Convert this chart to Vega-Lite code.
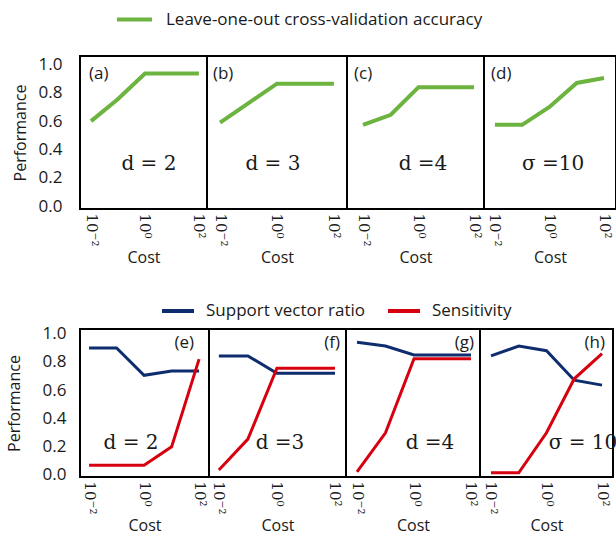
{
  "$schema": "https://vega.github.io/schema/vega-lite/v6.json",
  "background": "white",
  "padding": {"left": 5, "top": 0, "right": 0, "bottom": 0},
  "config": {
    "view": {"stroke": "#000", "strokeWidth": 2},
    "font": "Open Sans",
    "text": {"color": "#1a1a1a"},
    "axisX": {"labelAngle": 90, "labelFont": "DejaVu Serif", "labelFontSize": 15, "labelColor": "#1a1a1a", "labelFlush": false, "labelOverlap": false, "ticks": false, "domain": false, "grid": false, "labelPadding": 4, "titleFont": "Open Sans", "titleFontSize": 16, "titleFontWeight": "normal", "titleColor": "#1a1a1a", "titlePadding": 3},
    "axisY": {"ticks": false, "domain": false, "grid": false, "labelFont": "Open Sans", "labelFontSize": 17, "labelColor": "#1a1a1a", "labelFlush": false, "labelOverlap": false, "titleFont": "Open Sans", "titleFontSize": 16, "titleFontWeight": "normal", "titleColor": "#1a1a1a"},
    "legend": {"orient": "none", "direction": "horizontal", "symbolType": "stroke", "symbolStrokeWidth": 4, "labelFont": "Open Sans", "labelFontSize": 17, "labelColor": "#1a1a1a", "labelLimit": 500}
  },
  "datasets": {
    "top": [
      {"panel": "a", "series": "Leave-one-out cross-validation accuracy", "cost": 0.01, "value": 0.60},
      {"panel": "a", "series": "Leave-one-out cross-validation accuracy", "cost": 0.1, "value": 0.757},
      {"panel": "a", "series": "Leave-one-out cross-validation accuracy", "cost": 1, "value": 0.936},
      {"panel": "a", "series": "Leave-one-out cross-validation accuracy", "cost": 10, "value": 0.936},
      {"panel": "a", "series": "Leave-one-out cross-validation accuracy", "cost": 100, "value": 0.936},
      {"panel": "b", "series": "Leave-one-out cross-validation accuracy", "cost": 0.01, "value": 0.59},
      {"panel": "b", "series": "Leave-one-out cross-validation accuracy", "cost": 0.1, "value": 0.728},
      {"panel": "b", "series": "Leave-one-out cross-validation accuracy", "cost": 1, "value": 0.865},
      {"panel": "b", "series": "Leave-one-out cross-validation accuracy", "cost": 10, "value": 0.865},
      {"panel": "b", "series": "Leave-one-out cross-validation accuracy", "cost": 100, "value": 0.865},
      {"panel": "c", "series": "Leave-one-out cross-validation accuracy", "cost": 0.01, "value": 0.574},
      {"panel": "c", "series": "Leave-one-out cross-validation accuracy", "cost": 0.1, "value": 0.645},
      {"panel": "c", "series": "Leave-one-out cross-validation accuracy", "cost": 1, "value": 0.84},
      {"panel": "c", "series": "Leave-one-out cross-validation accuracy", "cost": 10, "value": 0.84},
      {"panel": "c", "series": "Leave-one-out cross-validation accuracy", "cost": 100, "value": 0.84},
      {"panel": "d", "series": "Leave-one-out cross-validation accuracy", "cost": 0.01, "value": 0.574},
      {"panel": "d", "series": "Leave-one-out cross-validation accuracy", "cost": 0.1, "value": 0.574},
      {"panel": "d", "series": "Leave-one-out cross-validation accuracy", "cost": 1, "value": 0.70},
      {"panel": "d", "series": "Leave-one-out cross-validation accuracy", "cost": 10, "value": 0.87},
      {"panel": "d", "series": "Leave-one-out cross-validation accuracy", "cost": 100, "value": 0.905}
    ],
    "bottom": [
      {"panel": "e", "series": "Support vector ratio", "cost": 0.01, "value": 0.90},
      {"panel": "e", "series": "Support vector ratio", "cost": 0.1, "value": 0.90},
      {"panel": "e", "series": "Support vector ratio", "cost": 1, "value": 0.705},
      {"panel": "e", "series": "Support vector ratio", "cost": 10, "value": 0.735},
      {"panel": "e", "series": "Support vector ratio", "cost": 100, "value": 0.735},
      {"panel": "e", "series": "Sensitivity", "cost": 0.01, "value": 0.064},
      {"panel": "e", "series": "Sensitivity", "cost": 0.1, "value": 0.064},
      {"panel": "e", "series": "Sensitivity", "cost": 1, "value": 0.064},
      {"panel": "e", "series": "Sensitivity", "cost": 10, "value": 0.195},
      {"panel": "e", "series": "Sensitivity", "cost": 100, "value": 0.82},
      {"panel": "f", "series": "Support vector ratio", "cost": 0.01, "value": 0.843},
      {"panel": "f", "series": "Support vector ratio", "cost": 0.1, "value": 0.843},
      {"panel": "f", "series": "Support vector ratio", "cost": 1, "value": 0.72},
      {"panel": "f", "series": "Support vector ratio", "cost": 10, "value": 0.72},
      {"panel": "f", "series": "Support vector ratio", "cost": 100, "value": 0.72},
      {"panel": "f", "series": "Sensitivity", "cost": 0.01, "value": 0.03},
      {"panel": "f", "series": "Sensitivity", "cost": 0.1, "value": 0.25},
      {"panel": "f", "series": "Sensitivity", "cost": 1, "value": 0.755},
      {"panel": "f", "series": "Sensitivity", "cost": 10, "value": 0.755},
      {"panel": "f", "series": "Sensitivity", "cost": 100, "value": 0.755},
      {"panel": "g", "series": "Support vector ratio", "cost": 0.01, "value": 0.94},
      {"panel": "g", "series": "Support vector ratio", "cost": 0.1, "value": 0.914},
      {"panel": "g", "series": "Support vector ratio", "cost": 1, "value": 0.85},
      {"panel": "g", "series": "Support vector ratio", "cost": 10, "value": 0.85},
      {"panel": "g", "series": "Support vector ratio", "cost": 100, "value": 0.85},
      {"panel": "g", "series": "Sensitivity", "cost": 0.01, "value": 0.016},
      {"panel": "g", "series": "Sensitivity", "cost": 0.1, "value": 0.295},
      {"panel": "g", "series": "Sensitivity", "cost": 1, "value": 0.823},
      {"panel": "g", "series": "Sensitivity", "cost": 10, "value": 0.823},
      {"panel": "g", "series": "Sensitivity", "cost": 100, "value": 0.823},
      {"panel": "h", "series": "Support vector ratio", "cost": 0.01, "value": 0.843},
      {"panel": "h", "series": "Support vector ratio", "cost": 0.1, "value": 0.914},
      {"panel": "h", "series": "Support vector ratio", "cost": 1, "value": 0.88},
      {"panel": "h", "series": "Support vector ratio", "cost": 10, "value": 0.67},
      {"panel": "h", "series": "Support vector ratio", "cost": 100, "value": 0.635},
      {"panel": "h", "series": "Sensitivity", "cost": 0.01, "value": 0.01},
      {"panel": "h", "series": "Sensitivity", "cost": 0.1, "value": 0.01},
      {"panel": "h", "series": "Sensitivity", "cost": 1, "value": 0.295},
      {"panel": "h", "series": "Sensitivity", "cost": 10, "value": 0.68},
      {"panel": "h", "series": "Sensitivity", "cost": 100, "value": 0.86}
    ]
  },
  "resolve": {"scale": {"color": "independent"}},
  "spacing": 26,
  "vconcat": [
    {
      "hconcat": [
        {
          "width": 127, "height": 153,
          "layer": [
            {
              "data": {"name": "top"},
              "transform": [{"filter": "datum.panel === 'a'"}],
              "mark": {"type": "line", "strokeWidth": 4},
              "encoding": {
                "x": {"field": "cost", "type": "quantitative", "scale": {"type": "log", "domain": [0.00389, 199.5], "nice": false},
                  "axis": {"values": [0.01, 1, 100], "labelExpr": "datum.value < 0.1 ? '10⁻²' : (datum.value < 10 ? '10⁰' : '10²')", "title": "Cost"}},
                "y": {"field": "value", "type": "quantitative", "scale": {"domain": [-0.02, 1.06], "nice": false, "zero": false},
                  "axis": {"values": [0, 0.2, 0.4, 0.6, 0.8, 1.0], "tickCount": 12, "format": ".1f", "labelOverlap": false, "labelPadding": 18, "title": "Performance", "titlePadding": 10}},
                "color": {"field": "series", "type": "nominal", "scale": {"domain": ["Leave-one-out cross-validation accuracy"], "range": ["#6cb33f"]},
                  "legend": {"legendX": 35, "legendY": -56, "title": null, "symbolSize": 1225, "labelOffset": 12}}
              }
            },
            {"data": {"values": [{}]}, "mark": {"type": "text", "align": "left", "fontSize": 17, "font": "Open Sans"}, "encoding": {"x": {"datum": 0.0084}, "y": {"datum": 0.936}, "text": {"value": "(a)"}}},
            {"data": {"values": [{}]}, "mark": {"type": "text", "align": "center", "fontSize": 20, "font": "DejaVu Serif"}, "encoding": {"x": {"datum": 1.40}, "y": {"datum": 0.30}, "text": {"value": "d = 2"}}}
          ]
        },
        {
          "width": 140, "height": 153,
          "layer": [
            {
              "data": {"name": "top"},
              "transform": [{"filter": "datum.panel === 'b'"}],
              "mark": {"type": "line", "strokeWidth": 4},
              "encoding": {
                "x": {"field": "cost", "type": "quantitative", "scale": {"type": "log", "domain": [0.00347, 288.4], "nice": false},
                  "axis": {"values": [0.01, 1, 100], "labelExpr": "datum.value < 0.1 ? '10⁻²' : (datum.value < 10 ? '10⁰' : '10²')", "title": "Cost"}},
                "y": {"field": "value", "type": "quantitative", "scale": {"domain": [-0.02, 1.06], "nice": false, "zero": false}, "axis": null},
                "color": {"field": "series", "type": "nominal", "scale": {"domain": ["Leave-one-out cross-validation accuracy"], "range": ["#6cb33f"]},
                  "legend": {"legendX": 35, "legendY": -56, "title": null, "symbolSize": 1225, "labelOffset": 12}}
              }
            },
            {"data": {"values": [{}]}, "mark": {"type": "text", "align": "left", "fontSize": 17, "font": "Open Sans"}, "encoding": {"x": {"datum": 0.0056}, "y": {"datum": 0.936}, "text": {"value": "(b)"}}},
            {"data": {"values": [{}]}, "mark": {"type": "text", "align": "center", "fontSize": 20, "font": "DejaVu Serif"}, "encoding": {"x": {"datum": 0.72}, "y": {"datum": 0.30}, "text": {"value": "d = 3"}}}
          ]
        },
        {
          "width": 137, "height": 153,
          "layer": [
            {
              "data": {"name": "top"},
              "transform": [{"filter": "datum.panel === 'c'"}],
              "mark": {"type": "line", "strokeWidth": 4},
              "encoding": {
                "x": {"field": "cost", "type": "quantitative", "scale": {"type": "log", "domain": [0.00265, 229.1], "nice": false},
                  "axis": {"values": [0.01, 1, 100], "labelExpr": "datum.value < 0.1 ? '10⁻²' : (datum.value < 10 ? '10⁰' : '10²')", "title": "Cost"}},
                "y": {"field": "value", "type": "quantitative", "scale": {"domain": [-0.02, 1.06], "nice": false, "zero": false}, "axis": null},
                "color": {"field": "series", "type": "nominal", "scale": {"domain": ["Leave-one-out cross-validation accuracy"], "range": ["#6cb33f"]},
                  "legend": {"legendX": 35, "legendY": -56, "title": null, "symbolSize": 1225, "labelOffset": 12}}
              }
            },
            {"data": {"values": [{}]}, "mark": {"type": "text", "align": "left", "fontSize": 17, "font": "Open Sans"}, "encoding": {"x": {"datum": 0.00473}, "y": {"datum": 0.936}, "text": {"value": "(c)"}}},
            {"data": {"values": [{}]}, "mark": {"type": "text", "align": "center", "fontSize": 20, "font": "DejaVu Serif"}, "encoding": {"x": {"datum": 1.45}, "y": {"datum": 0.30}, "text": {"value": "d =4"}}}
          ]
        },
        {
          "width": 132, "height": 153,
          "layer": [
            {
              "data": {"name": "top"},
              "transform": [{"filter": "datum.panel === 'd'"}],
              "mark": {"type": "line", "strokeWidth": 4},
              "encoding": {
                "x": {"field": "cost", "type": "quantitative", "scale": {"type": "log", "domain": [0.00398, 275.4], "nice": false},
                  "axis": {"values": [0.01, 1, 100], "labelExpr": "datum.value < 0.1 ? '10⁻²' : (datum.value < 10 ? '10⁰' : '10²')", "title": "Cost"}},
                "y": {"field": "value", "type": "quantitative", "scale": {"domain": [-0.02, 1.06], "nice": false, "zero": false}, "axis": null},
                "color": {"field": "series", "type": "nominal", "scale": {"domain": ["Leave-one-out cross-validation accuracy"], "range": ["#6cb33f"]},
                  "legend": {"legendX": 35, "legendY": -56, "title": null, "symbolSize": 1225, "labelOffset": 12}}
              }
            },
            {"data": {"values": [{}]}, "mark": {"type": "text", "align": "left", "fontSize": 17, "font": "Open Sans"}, "encoding": {"x": {"datum": 0.0072}, "y": {"datum": 0.936}, "text": {"value": "(d)"}}},
            {"data": {"values": [{}]}, "mark": {"type": "text", "align": "center", "fontSize": 20, "font": "DejaVu Serif"}, "encoding": {"x": {"datum": 1.36}, "y": {"datum": 0.30}, "text": {"value": "σ =10"}}}
          ]
        }
      ],
      "spacing": 0,
      "bounds": "flush"
    },
    {
      "hconcat": [
        {
          "width": 129, "height": 148,
          "layer": [
            {
              "data": {"name": "bottom"},
              "transform": [{"filter": "datum.panel === 'e' && datum.series === 'Support vector ratio'"}],
              "mark": {"type": "line", "strokeWidth": 3},
              "encoding": {
                "x": {"field": "cost", "type": "quantitative", "scale": {"type": "log", "domain": [0.00468, 229.1], "nice": false},
                  "axis": {"values": [0.01, 1, 100], "labelExpr": "datum.value < 0.1 ? '10⁻²' : (datum.value < 10 ? '10⁰' : '10²')", "title": "Cost"}},
                "y": {"field": "value", "type": "quantitative", "scale": {"domain": [-0.02, 1.035], "nice": false, "zero": false},
                  "axis": {"values": [0, 0.2, 0.4, 0.6, 0.8, 1.0], "tickCount": 12, "format": ".1f", "labelOverlap": false, "labelPadding": 14, "title": "Performance", "titlePadding": 20}},
                "color": {"field": "series", "type": "nominal", "scale": {"domain": ["Support vector ratio", "Sensitivity"], "range": ["#0e2d6e", "#d7000f"]},
                  "legend": {"legendX": 80, "legendY": -36, "title": null, "symbolSize": 1024, "labelOffset": 10, "columnPadding": 14}}
              }
            },
            {
              "data": {"name": "bottom"},
              "transform": [{"filter": "datum.panel === 'e' && datum.series === 'Sensitivity'"}],
              "mark": {"type": "line", "strokeWidth": 3},
              "encoding": {
                "x": {"field": "cost", "type": "quantitative"},
                "y": {"field": "value", "type": "quantitative"},
                "color": {"field": "series", "type": "nominal"}
              }
            },
            {"data": {"values": [{}]}, "mark": {"type": "text", "align": "right", "fontSize": 17, "font": "Open Sans"}, "encoding": {"x": {"datum": 65.3}, "y": {"datum": 0.936}, "text": {"value": "(e)"}}},
            {"data": {"values": [{}]}, "mark": {"type": "text", "align": "center", "fontSize": 20, "font": "DejaVu Serif"}, "encoding": {"x": {"datum": 0.335}, "y": {"datum": 0.224}, "text": {"value": "d = 2"}}}
          ]
        },
        {
          "width": 137, "height": 148,
          "layer": [
            {
              "data": {"name": "bottom"},
              "transform": [{"filter": "datum.panel === 'f' && datum.series === 'Support vector ratio'"}],
              "mark": {"type": "line", "strokeWidth": 3},
              "encoding": {
                "x": {"field": "cost", "type": "quantitative", "scale": {"type": "log", "domain": [0.00457, 239.9], "nice": false},
                  "axis": {"values": [0.01, 1, 100], "labelExpr": "datum.value < 0.1 ? '10⁻²' : (datum.value < 10 ? '10⁰' : '10²')", "title": "Cost"}},
                "y": {"field": "value", "type": "quantitative", "scale": {"domain": [-0.02, 1.035], "nice": false, "zero": false}, "axis": null},
                "color": {"field": "series", "type": "nominal", "scale": {"domain": ["Support vector ratio", "Sensitivity"], "range": ["#0e2d6e", "#d7000f"]},
                  "legend": {"legendX": 80, "legendY": -36, "title": null, "symbolSize": 1024, "labelOffset": 10, "columnPadding": 14}}
              }
            },
            {
              "data": {"name": "bottom"},
              "transform": [{"filter": "datum.panel === 'f' && datum.series === 'Sensitivity'"}],
              "mark": {"type": "line", "strokeWidth": 3},
              "encoding": {
                "x": {"field": "cost", "type": "quantitative"},
                "y": {"field": "value", "type": "quantitative"},
                "color": {"field": "series", "type": "nominal"}
              }
            },
            {"data": {"values": [{}]}, "mark": {"type": "text", "align": "right", "fontSize": 17, "font": "Open Sans"}, "encoding": {"x": {"datum": 150}, "y": {"datum": 0.936}, "text": {"value": "(f)"}}},
            {"data": {"values": [{}]}, "mark": {"type": "text", "align": "center", "fontSize": 20, "font": "DejaVu Serif"}, "encoding": {"x": {"datum": 1.28}, "y": {"datum": 0.224}, "text": {"value": "d =3"}}}
          ]
        },
        {
          "width": 134, "height": 148,
          "layer": [
            {
              "data": {"name": "bottom"},
              "transform": [{"filter": "datum.panel === 'g' && datum.series === 'Support vector ratio'"}],
              "mark": {"type": "line", "strokeWidth": 3},
              "encoding": {
                "x": {"field": "cost", "type": "quantitative", "scale": {"type": "log", "domain": [0.00411, 207], "nice": false},
                  "axis": {"values": [0.01, 1, 100], "labelExpr": "datum.value < 0.1 ? '10⁻²' : (datum.value < 10 ? '10⁰' : '10²')", "title": "Cost"}},
                "y": {"field": "value", "type": "quantitative", "scale": {"domain": [-0.02, 1.035], "nice": false, "zero": false}, "axis": null},
                "color": {"field": "series", "type": "nominal", "scale": {"domain": ["Support vector ratio", "Sensitivity"], "range": ["#0e2d6e", "#d7000f"]},
                  "legend": {"legendX": 80, "legendY": -36, "title": null, "symbolSize": 1024, "labelOffset": 10, "columnPadding": 14}}
              }
            },
            {
              "data": {"name": "bottom"},
              "transform": [{"filter": "datum.panel === 'g' && datum.series === 'Sensitivity'"}],
              "mark": {"type": "line", "strokeWidth": 3},
              "encoding": {
                "x": {"field": "cost", "type": "quantitative"},
                "y": {"field": "value", "type": "quantitative"},
                "color": {"field": "series", "type": "nominal"}
              }
            },
            {"data": {"values": [{}]}, "mark": {"type": "text", "align": "right", "fontSize": 17, "font": "Open Sans"}, "encoding": {"x": {"datum": 127}, "y": {"datum": 0.936}, "text": {"value": "(g)"}}},
            {"data": {"values": [{}]}, "mark": {"type": "text", "align": "center", "fontSize": 20, "font": "DejaVu Serif"}, "encoding": {"x": {"datum": 3.64}, "y": {"datum": 0.224}, "text": {"value": "d =4"}}}
          ]
        },
        {
          "width": 133, "height": 148,
          "layer": [
            {
              "data": {"name": "bottom"},
              "transform": [{"filter": "datum.panel === 'h' && datum.series === 'Support vector ratio'"}],
              "mark": {"type": "line", "strokeWidth": 3},
              "encoding": {
                "x": {"field": "cost", "type": "quantitative", "scale": {"type": "log", "domain": [0.00402, 248.9], "nice": false},
                  "axis": {"values": [0.01, 1, 100], "labelExpr": "datum.value < 0.1 ? '10⁻²' : (datum.value < 10 ? '10⁰' : '10²')", "title": "Cost"}},
                "y": {"field": "value", "type": "quantitative", "scale": {"domain": [-0.02, 1.035], "nice": false, "zero": false}, "axis": null},
                "color": {"field": "series", "type": "nominal", "scale": {"domain": ["Support vector ratio", "Sensitivity"], "range": ["#0e2d6e", "#d7000f"]},
                  "legend": {"legendX": 80, "legendY": -36, "title": null, "symbolSize": 1024, "labelOffset": 10, "columnPadding": 14}}
              }
            },
            {
              "data": {"name": "bottom"},
              "transform": [{"filter": "datum.panel === 'h' && datum.series === 'Sensitivity'"}],
              "mark": {"type": "line", "strokeWidth": 3},
              "encoding": {
                "x": {"field": "cost", "type": "quantitative"},
                "y": {"field": "value", "type": "quantitative"},
                "color": {"field": "series", "type": "nominal"}
              }
            },
            {"data": {"values": [{}]}, "mark": {"type": "text", "align": "right", "fontSize": 17, "font": "Open Sans"}, "encoding": {"x": {"datum": 128}, "y": {"datum": 0.936}, "text": {"value": "(h)"}}},
            {"data": {"values": [{}]}, "mark": {"type": "text", "align": "center", "fontSize": 20, "font": "DejaVu Serif"}, "encoding": {"x": {"datum": 20.7}, "y": {"datum": 0.224}, "text": {"value": "σ = 10"}}}
          ]
        }
      ],
      "spacing": 0,
      "bounds": "flush"
    }
  ]
}
